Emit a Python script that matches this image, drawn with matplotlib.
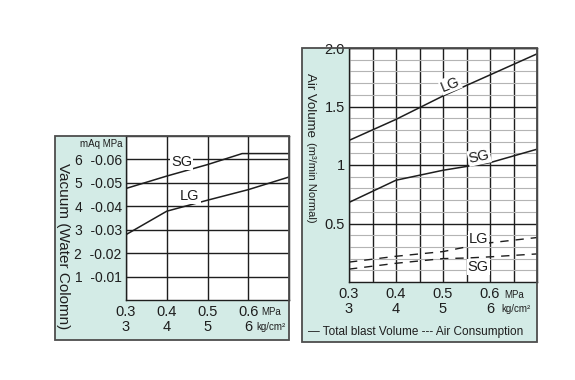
import matplotlib
matplotlib.use('Agg')
import matplotlib.pyplot as plt
from matplotlib.patches import Rectangle
from matplotlib.ticker import MultipleLocator, NullFormatter

plt.rcParams['font.family'] = ['Liberation Sans', 'DejaVu Sans']

# ---------------- data ----------------
# shared pressure axis
pressure_MPa = [0.3, 0.4, 0.5, 0.6]
pressure_kg = [3, 4, 5, 6]

# left chart: vacuum (water column)
vac_mAq = [1, 2, 3, 4, 5, 6]
vac_MPa = ["-0.01", "-0.02", "-0.03", "-0.04", "-0.05", "-0.06"]
vac_sg_x = [0.3, 0.4, 0.5, 0.585, 0.7]
vac_sg_y = [4.76, 5.29, 5.78, 6.25, 6.25]
vac_lg_x = [0.3, 0.4, 0.5, 0.6, 0.7]
vac_lg_y = [2.79, 3.79, 4.26, 4.71, 5.25]

# right chart: air volume
air_ticks = [0.5, 1.0, 1.5, 2.0]
air_tick_labels = ["0.5", "1", "1.5", "2.0"]
air_x = [0.3, 0.4, 0.5, 0.6, 0.7]
blast_lg = [1.21, 1.39, 1.59, 1.77, 1.95]
blast_sg = [0.68, 0.87, 0.955, 1.02, 1.135]
cons_x = [0.3, 0.4, 0.5, 0.55, 0.6, 0.7]
cons_lg = [0.17, 0.22, 0.26, 0.30, 0.335, 0.38]
cons_sg = [0.11, 0.16, 0.20, 0.205, 0.215, 0.24]

# ---------------- layout ----------------
W, H = 575, 380
fig = plt.figure(figsize=(W / 100, H / 100), dpi=100)
fig.patch.set_facecolor('white')


def fx(x):
    return x / W


def fy(y):
    return 1 - y / H


PANEL = '#d3ebe6'
EDGE = '#4d4d4d'
INK = '#1e1e1e'


def panel(x0, y0, x1, y1):
    fig.add_artist(Rectangle((fx(x0), fy(y1)), fx(x1) - fx(x0), fy(y0) - fy(y1),
                             transform=fig.transFigure, facecolor=PANEL,
                             edgecolor='none', zorder=-5))
    fig.add_artist(Rectangle((fx(x0), fy(y1)), fx(x1) - fx(x0), fy(y0) - fy(y1),
                             transform=fig.transFigure, facecolor='none',
                             edgecolor=EDGE, lw=1.3, zorder=10))


panel(55, 136, 289, 340)
panel(302, 48, 537, 342)

xlabels = [f"{m}\n{k}" for m, k in zip(pressure_MPa, pressure_kg)]

# ---------------- left chart ----------------
axL = fig.add_axes([fx(126), fy(300), fx(289) - fx(126), fy(136) - fy(300)])
axL.set_facecolor('white')
axL.set_xlim(0.3, 0.7)
axL.set_ylim(0, 7)
axL.set_xticks(pressure_MPa)
axL.set_xticklabels(xlabels, fontsize=10.5, linespacing=1.08)
axL.set_yticks(vac_mAq)
axL.set_yticklabels([f"{a}  {b}" for a, b in zip(vac_mAq, vac_MPa)], fontsize=10)
axL.tick_params(length=0, pad=3, colors=INK)
axL.tick_params(axis='x', pad=3.5)
axL.grid(True, color=INK, lw=1.0)
for s in axL.spines.values():
    s.set_color(INK)
    s.set_linewidth(1.0)
axL.set_axisbelow(True)
axL.plot(vac_sg_x, vac_sg_y, color=INK, lw=1.1, zorder=3)
axL.plot(vac_lg_x, vac_lg_y, color=INK, lw=1.1, zorder=3)
lbl = dict(fontsize=10.5, ha='center', va='center', color=INK, zorder=4,
           bbox=dict(facecolor='white', edgecolor='none', pad=0.6))
axL.text(0.437, 5.87, 'SG', **lbl)
axL.text(0.457, 4.43, 'LG', **lbl)

fig.text(fx(122), fy(144), 'mAq MPa', ha='right', va='center', fontsize=7, color=INK)
fig.text(fx(261), fy(312), 'MPa', ha='left', va='center', fontsize=7, color=INK)
fig.text(fx(256), fy(327), 'kg/cm²', ha='left', va='center', fontsize=7, color=INK)
fig.text(fx(63), fy(246), 'Vacuum (Water Colomn)', rotation=-90, ha='center',
         va='center', fontsize=11, color=INK)

# ---------------- right chart ----------------
axR = fig.add_axes([fx(349), fy(282), fx(537) - fx(349), fy(48) - fy(282)])
axR.set_facecolor('white')
axR.set_xlim(0.3, 0.7)
axR.set_ylim(0, 2.0)
axR.set_xticks(pressure_MPa)
axR.set_xticklabels(xlabels, fontsize=10.5, linespacing=1.08)
axR.xaxis.set_minor_locator(MultipleLocator(0.05))
axR.xaxis.set_minor_formatter(NullFormatter())
axR.set_yticks(air_ticks)
axR.set_yticklabels(air_tick_labels, fontsize=10.5)
axR.yaxis.set_minor_locator(MultipleLocator(0.1))
axR.yaxis.set_minor_formatter(NullFormatter())
axR.tick_params(which='both', length=0, colors=INK)
axR.tick_params(axis='y', pad=3)
axR.tick_params(axis='x', pad=3.5)
axR.yaxis.grid(True, which='minor', color='#b4b4b4', lw=0.8)
axR.yaxis.grid(True, which='major', color=INK, lw=1.0)
axR.xaxis.grid(True, which='both', color=INK, lw=1.0)
for s in axR.spines.values():
    s.set_color(INK)
    s.set_linewidth(1.0)
axR.set_axisbelow(True)

axR.plot(air_x, blast_lg, color=INK, lw=1.1, zorder=3)
axR.plot(air_x, blast_sg, color=INK, lw=1.1, zorder=3)
axR.plot(cons_x, cons_lg, color=INK, lw=1.0, ls=(0, (6, 5)), zorder=3)
axR.plot(cons_x, cons_sg, color=INK, lw=1.0, ls=(0, (6, 5)), zorder=3)

axR.text(0.515, 1.69, 'LG', rotation=22, **lbl)
axR.text(0.577, 1.07, 'SG', rotation=12, **lbl)
axR.text(0.575, 0.37, 'LG', **lbl)
axR.text(0.575, 0.13, 'SG', **lbl)

fig.text(fx(504), fy(295), 'MPa', ha='left', va='center', fontsize=7, color=INK)
fig.text(fx(501), fy(309), 'kg/cm²', ha='left', va='center', fontsize=7, color=INK)
fig.text(fx(310), fy(73), 'Air Volume', rotation=-90, ha='center', va='top',
         fontsize=9.5, color=INK)
fig.text(fx(311), fy(142), '(m³/min Normal)', rotation=-90, ha='center', va='top',
         fontsize=8, color=INK)
fig.text(fx(416), fy(332), '— Total blast Volume --- Air Consumption', ha='center',
         va='center', fontsize=8.5, color=INK)

fig.savefig('out.png', dpi=100)
